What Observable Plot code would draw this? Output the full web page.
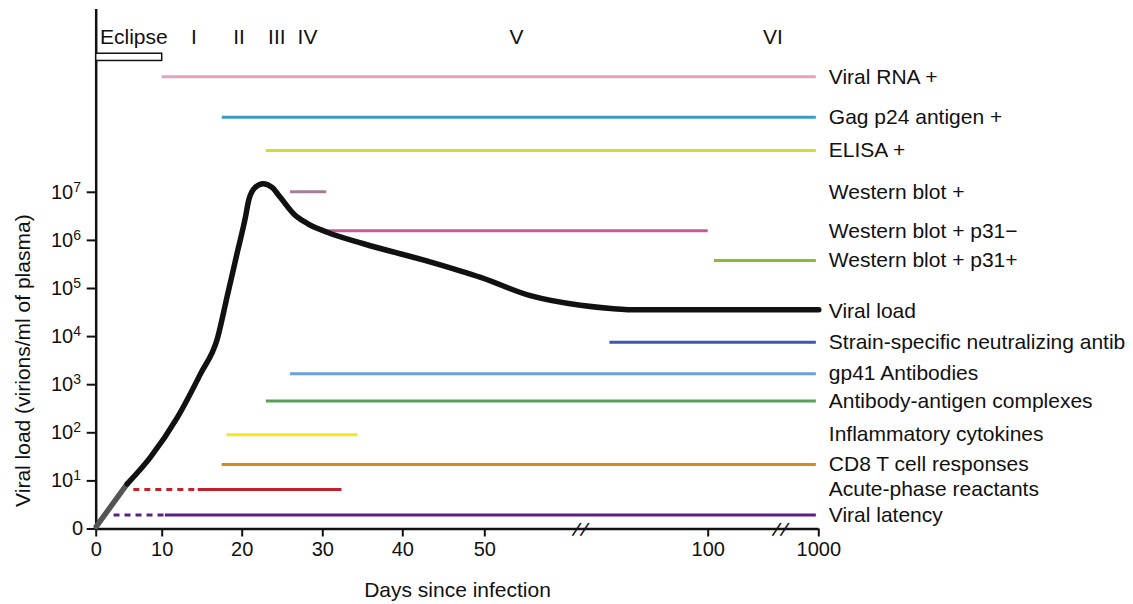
<!DOCTYPE html>
<html><head><meta charset="utf-8">
<script src="https://cdn.jsdelivr.net/npm/d3@7"></script>
<script src="https://cdn.jsdelivr.net/npm/@observablehq/plot@0.6"></script>
<style>
body{margin:0;background:#fff;}
svg{display:block;font-family:"Liberation Sans",Arial,Helvetica,sans-serif;}
</style>
</head><body><div id="chart"></div>
<script>
// ---- data ----
const xTicks = [0, 10, 20, 30, 40, 50, 100, 1000];
const yTickLevels = [0, 1, 2, 3, 4, 5, 6, 7];           // log10 levels; 0 shown as "0"
const breakDays = [71.4, 688];                           // axis breaks

const phaseNames = ["Eclipse", "I", "II", "III", "IV", "V", "VI"];
const phaseDays  = [5.7, 13.95, 19.6, 24.3, 28.1, 57.1, 626];
const eclipseStart = 0, eclipseEnd = 10;

const rowLabels = ["Viral RNA +", "Gag p24 antigen +", "ELISA +", "Western blot +",
  "Western blot + p31−", "Western blot + p31+", "Viral load",
  "Strain-specific neutralizing antib", "gp41 Antibodies", "Antibody-antigen complexes",
  "Inflammatory cytokines", "CD8 T cell responses", "Acute-phase reactants", "Viral latency"];
const rowLevel = [9.40, 8.56, 7.87, 7.01, 6.20, 5.58, 4.52, 3.88, 3.23, 2.66, 1.96, 1.34, 0.82, 0.29];
const barStart = [10, 17.5, 23, 26, 30.5, 151, null, 78, 26, 23, 18.1, 17.5, 14.5, 10.4];
const barEnd   = [980, 980, 980, 30.5, 100, 980, null, 980, 980, 980, 34.4, 980, 32.4, 980];
const barColors = ["#e2a3bd", "#3c9cc0", "#d3dc34", "#a57c9b", "#c9589b", "#8cb834", null,
  "#3b57b0", "#6b9fdf", "#58a05a", "#f6e71c", "#d98a1e", "#c1212b", "#5b2181"];

const dashLabels = ["Acute-phase reactants", "Viral latency"];
const dashStart  = [5.7, 2.7];

const vlDays = [0, 4.7, 8.2, 11.9, 14.8, 16.9, 18.1, 19.4, 20.4, 20.8, 21.6, 22.6, 23.7, 24.7,
  26.4, 28.1, 30.55, 35.1, 43.4, 49.5, 60.2, 71.4, 78.8, 82.6, 1000];
const vlLog  = [0.05, 0.94, 1.49, 2.32, 3.23, 3.96, 4.82, 5.76, 6.48, 6.83, 7.1, 7.18, 7.1, 6.9,
  6.55, 6.35, 6.17, 5.93, 5.55, 5.23, 4.85, 4.65, 4.58, 4.56, 4.56];
const vlEarlyCount = 2; // first segment drawn in grey

const xTitle = "Days since infection";
const yTitle = "Viral load (virions/ml of plasma)";

// ---- build tables ----
const rows = rowLabels.map((label, i) => ({label, level: rowLevel[i], start: barStart[i], end: barEnd[i], color: barColors[i]}));
const bars = rows.filter(d => d.start != null);
const dashes = dashLabels.map((l, i) => {
  const r = rows.find(d => d.label === l);
  return {level: r.level, start: dashStart[i], end: r.start, color: r.color};
});
const vl = vlDays.map((day, i) => ({day, log: vlLog[i]}));
const vlEarly = vl.slice(0, vlEarlyCount);
const vlMain = vl.slice(vlEarlyCount - 1);
const phases = phaseNames.map((name, i) => ({name, day: phaseDays[i]}));
const expTicks = yTickLevels.filter(d => d > 0);
const yTop = 10.8;

const font = 21;
const chart = Plot.plot({
  width: 1133, height: 604,
  marginLeft: 95.7, marginRight: 314.7, marginTop: 9, marginBottom: 75.5,
  x: {type: "linear", domain: xTicks, range: [95.7, 161.7, 241.7, 322.3, 402.3, 484.3, 707.7, 818.3]},
  y: {domain: [0, yTop], range: [528.5, 9]},
  style: {fontFamily: '"Liberation Sans", Arial, Helvetica, sans-serif', color: "#111", background: "#fff"},
  marks: [
    // axes
    Plot.axisX({ticks: xTicks, tickSize: 8, tickPadding: 5, fontSize: 20, tickFormat: d => String(d), label: null, strokeWidth: 2}),
    Plot.axisY({ticks: yTickLevels, tickSize: 9, tickFormat: () => "", label: null, strokeWidth: 2}),
    Plot.ruleX([0], {y1: 0, y2: yTop, stroke: "#111", strokeWidth: 2.5}),
    Plot.ruleY([0], {x1: 0, x2: 1000, stroke: "#111", strokeWidth: 2.5}),
    // y tick labels
    Plot.text([0], {x: 0, y: d => d, text: () => "0", textAnchor: "end", dx: -13, fontSize: 20}),
    Plot.text(expTicks, {x: 0, y: d => d, text: () => "10", textAnchor: "end", dx: -23, fontSize: 20}),
    Plot.text(expTicks, {x: 0, y: d => d, text: d => String(d), textAnchor: "start", dx: -23, dy: -5, fontSize: 14}),
    // axis breaks
    Plot.text(breakDays, {x: d => d, y: 0, text: () => "/", dx: -4, dy: 1, rotate: 18, fontSize: 20, fill: "#111"}),
    Plot.text(breakDays, {x: d => d, y: 0, text: () => "/", dx: 4, dy: 1, rotate: 18, fontSize: 20, fill: "#111"}),
    // titles
    Plot.text([xTitle], {frameAnchor: "bottom", text: d => d, dy: 61.5, lineAnchor: "middle", fontSize: font}),
    Plot.text([yTitle], {x: 0, y: 3.5, text: d => d, rotate: -90, dx: -73, fontSize: font}),
    // phases
    Plot.rect([{s: eclipseStart, e: eclipseEnd}], {x1: "s", x2: "e", y1: 9.73, y2: 9.88, fill: "#fff", stroke: "#111", strokeWidth: 1.5}),
    Plot.text(phases, {x: "day", y: 10.22, text: "name", fontSize: font}),
    // bars
    Plot.ruleY(dashes, {y: "level", x1: "start", x2: "end", stroke: "color", strokeWidth: 3, strokeDasharray: "6,5"}),
    Plot.ruleY(bars, {y: "level", x1: "start", x2: "end", stroke: "color", strokeWidth: 3}),
    // viral load
    Plot.line(vlEarly, {x: "day", y: "log", stroke: "#555", strokeWidth: 5.5}),
    Plot.line(vlMain, {x: "day", y: "log", stroke: "#111", strokeWidth: 5.5, curve: "monotone-x", strokeLinejoin: "round"}),
    // right labels
    Plot.text(rows, {x: 1000, y: "level", text: "label", textAnchor: "start", dx: 10, fontSize: font, fill: "#111"})
  ]
});
document.getElementById("chart").appendChild(chart);
</script>
</body></html>
